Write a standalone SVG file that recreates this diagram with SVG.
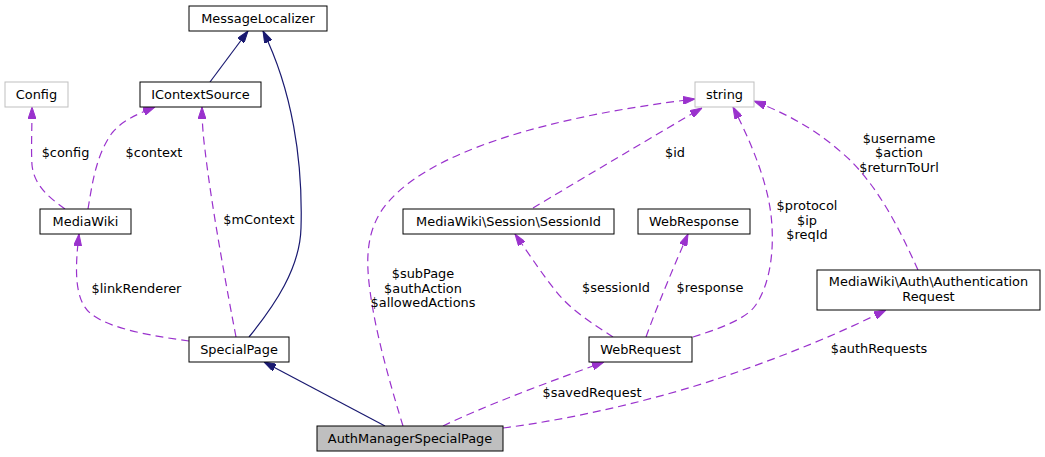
<svg xmlns="http://www.w3.org/2000/svg" width="1045" height="457" viewBox="0 0 1045 457">
<style>
.box{fill:#fff;stroke:#000;stroke-width:1}
.gray{fill:#fff;stroke:#bfbfbf;stroke-width:1}
.root{fill:#bfbfbf;stroke:#000;stroke-width:1}
text{font-family:"DejaVu Sans",sans-serif;font-size:12.9px;fill:#000;text-anchor:middle}
.inh{fill:none;stroke:#191970;stroke-width:1.2;marker-end:url(#an)}
.dep{fill:none;stroke:#9a32cd;stroke-width:1.2;stroke-dasharray:8,5;marker-end:url(#ap)}
</style>
<defs>
<marker id="an" markerUnits="userSpaceOnUse" viewBox="0 0 12 8" refX="12" refY="4" markerWidth="12" markerHeight="8" orient="auto">
<path d="M0,0 L12,4 L0,8 z" fill="#191970" stroke="#191970"/>
</marker>
<marker id="ap" markerUnits="userSpaceOnUse" viewBox="0 0 12 8" refX="12" refY="4" markerWidth="12" markerHeight="8" orient="auto">
<path d="M0,0 L12,4 L0,8 z" fill="#9a32cd" stroke="#9a32cd"/>
</marker>
</defs>
<g id="edges">
<path class="inh" d="M210,82 L248,31"/>
<path class="inh" d="M249,337 C275,305 300,268 301,228 C303,160 292,90 263,31"/>
<path class="inh" d="M385,426 L264,362"/>
<path class="dep" d="M65,209 C50,198 34,186 32,165 C31,150 32,130 32,107"/>
<path class="dep" d="M88,209 C92,185 96,155 112,133 C122,121 135,115 155,107"/>
<path class="dep" d="M236,337 C228,295 212,210 205,150 C203,135 202,120 202,107"/>
<path class="dep" d="M189,341 C160,337 110,330 90,313 C74,299 75,268 79,234"/>
<path class="dep" d="M403,426 C395,400 380,350 373,310 C366,270 364,240 380,213 C420,150 560,115 695,99"/>
<path class="dep" d="M533,208 C570,186 630,150 702,108"/>
<path class="dep" d="M693,337 C715,330 745,320 755,306 C770,285 775,250 771,215 C767,180 750,140 733,107"/>
<path class="dep" d="M613,337 C595,325 570,310 555,290 C543,275 533,260 515,234"/>
<path class="dep" d="M646,337 C655,312 668,280 688,234"/>
<path class="dep" d="M443,426 C480,408 540,385 604,362"/>
<path class="dep" d="M503,428 C580,418 660,398 720,378 C790,354 840,333 886,310"/>
<path class="dep" d="M918,270 C900,230 880,190 850,160 C822,134 795,117 754,101"/>
<text x="65.5" y="157">$config</text>
<text x="154" y="157">$context</text>
<text x="259" y="224">$mContext</text>
<text x="136.5" y="293">$linkRenderer</text>
<text x="423" y="278">$subPage</text>
<text x="423" y="292.5">$authAction</text>
<text x="423" y="307">$allowedActions</text>
<text x="675" y="157">$id</text>
<text x="807" y="210">$protocol</text>
<text x="807" y="224.5">$ip</text>
<text x="807" y="239">$reqId</text>
<text x="899" y="142.5">$username</text>
<text x="899" y="157">$action</text>
<text x="899" y="171.5">$returnToUrl</text>
<text x="616" y="292">$sessionId</text>
<text x="710" y="292">$response</text>
<text x="592" y="397">$savedRequest</text>
<text x="879" y="352.5">$authRequests</text>
</g>
<g id="MessageLocalizer"><rect class="box" x="189" y="6" width="138" height="25"/><text x="258" y="23">MessageLocalizer</text></g>
<g id="Config"><rect class="gray" x="5" y="82" width="63" height="25"/><text x="36.5" y="99">Config</text></g>
<g id="IContextSource"><rect class="box" x="140" y="82" width="121" height="25"/><text x="200.5" y="99">IContextSource</text></g>
<g id="string"><rect class="gray" x="695" y="82" width="59" height="25"/><text x="724.5" y="99">string</text></g>
<g id="MediaWiki"><rect class="box" x="40" y="209" width="91" height="25"/><text x="85.5" y="226">MediaWiki</text></g>
<g id="SessionId"><rect class="box" x="403" y="209" width="211" height="25"/><text x="508.5" y="226">MediaWiki\Session\SessionId</text></g>
<g id="WebResponse"><rect class="box" x="638" y="209" width="112" height="25"/><text x="694" y="226">WebResponse</text></g>
<g id="AuthenticationRequest"><rect class="box" x="817" y="270" width="223" height="40"/><text x="928.5" y="286">MediaWiki\Auth\Authentication</text><text x="928.5" y="301">Request</text></g>
<g id="SpecialPage"><rect class="box" x="189" y="337" width="100" height="25"/><text x="239" y="354">SpecialPage</text></g>
<g id="WebRequest"><rect class="box" x="589" y="337" width="103" height="25"/><text x="640.5" y="354">WebRequest</text></g>
<g id="AuthManagerSpecialPage"><rect class="root" x="317" y="426" width="186" height="25"/><text x="410" y="443">AuthManagerSpecialPage</text></g>
</svg>
